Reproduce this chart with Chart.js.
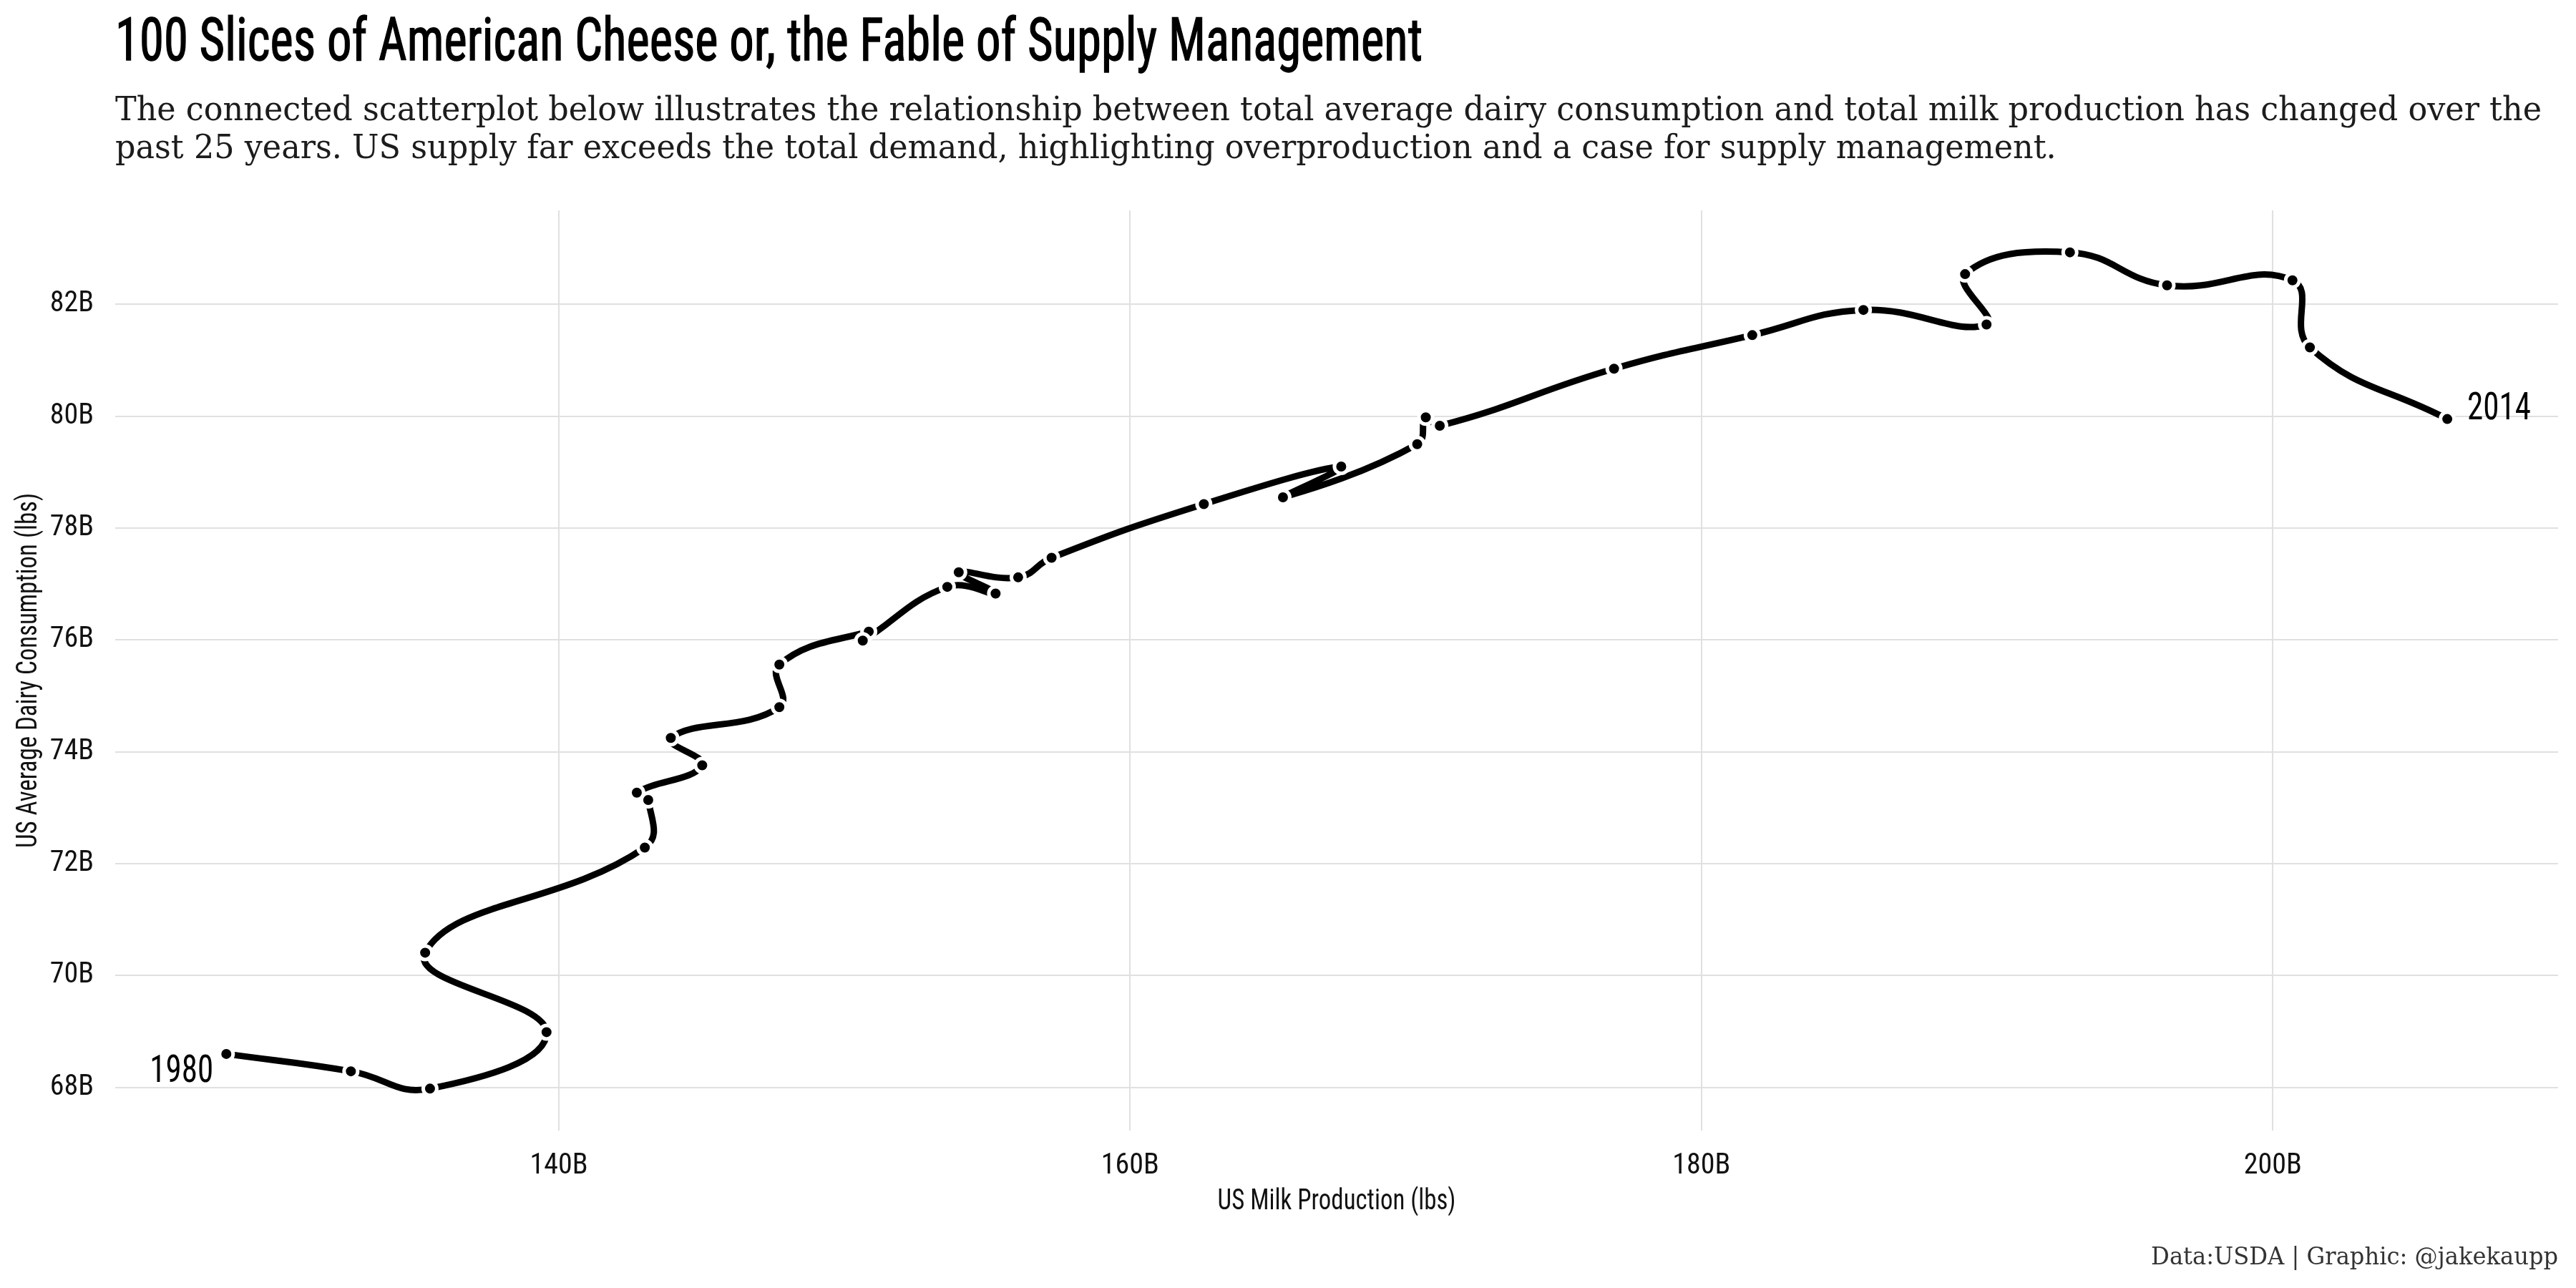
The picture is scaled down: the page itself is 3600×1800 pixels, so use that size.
<!DOCTYPE html>
<html lang="en">
<head>
    <meta charset="UTF-8">
    <title>100 Slices of American Cheese</title>
    <script src="https://cdn.jsdelivr.net/npm/chart.js"></script>
    <style>
        html, body {
            margin: 0;
            padding: 0;
            background: #fff;
        }
        #wrap {
            position: relative;
            width: 3600px;
            height: 1800px;
            overflow: hidden;
        }
        #chart {
            position: absolute;
            left: 0;
            top: 0;
        }
        .txt {
            position: absolute;
            white-space: nowrap;
            line-height: 1;
            transform-origin: left top;
        }
        #title {
            left: 161px;
            top: 14px;
            font-family: "Liberation Sans Narrow", "Roboto Condensed", "DejaVu Sans Condensed", sans-serif;
            font-size: 83px;
            color: #000;
            -webkit-text-stroke: 1.4px #000;
        }
        #subtitle {
            left: 161px;
            top: 126px;
            font-family: "DejaVu Serif", serif;
            font-size: 46px;
            line-height: 53px;
            color: #1c1c1c;
        }
        #caption {
            right: 25px;
            top: 1738px;
            font-family: "DejaVu Serif", serif;
            font-size: 34px;
            color: #333;
            transform-origin: right top;
        }
    </style>
</head>
<body>
<div id="wrap">
    <canvas id="chart" width="3600" height="1800"></canvas>
    <div class="txt" id="title" data-fit="1827">100 Slices of American Cheese or, the Fable of Supply Management</div>
    <div class="txt" id="subtitle" data-fit="3391">The connected scatterplot below illustrates the relationship between total average dairy consumption and total milk production has changed over the<br>past 25 years. US supply far exceeds the total demand, highlighting overproduction and a case for supply management.</div>
    <div class="txt" id="caption" data-fit="569">Data:USDA | Graphic: @jakekaupp</div>
</div>
<script>
    // values in billions of lbs
    const years = [1980, 1981, 1982, 1983, 1984, 1985, 1986, 1987, 1988, 1989,
                   1990, 1991, 1992, 1993, 1994, 1995, 1996, 1997, 1998, 1999,
                   2000, 2001, 2002, 2003, 2004, 2005, 2006, 2007, 2008, 2009,
                   2010, 2011, 2012, 2013, 2014];
    const milkProduction = [128.36, 132.72, 135.49, 139.57, 135.32, 143.01, 143.13, 142.73, 145.02, 143.92,
                            147.72, 147.72, 150.85, 150.64, 153.60, 155.29, 154.00, 156.08, 157.25, 162.58,
                            167.39, 165.35, 170.05, 170.35, 170.84, 176.94, 181.78, 185.67, 189.98, 189.23,
                            192.90, 196.30, 200.69, 201.30, 206.11];
    const dairyConsumption = [68.60, 68.29, 67.98, 68.99, 70.41, 72.29, 73.14, 73.27, 73.76, 74.25,
                              74.80, 75.56, 76.15, 75.99, 76.95, 76.83, 77.21, 77.12, 77.47, 78.43,
                              79.10, 78.55, 79.50, 79.98, 79.83, 80.85, 81.45, 81.90, 81.64, 82.54,
                              82.93, 82.34, 82.43, 81.23, 79.95];
    const xTicks = [140, 160, 180, 200];
    const yTicks = [68, 70, 72, 74, 76, 78, 80, 82];
    const xTitle = 'US Milk Production (lbs)';
    const yTitle = 'US Average Dairy Consumption (lbs)';

    const narrow = '"Liberation Sans Narrow", "Roboto Condensed", "DejaVu Sans Condensed", sans-serif';
    const squeeze = 0.85; // the original face is narrower than what we have

    const points = milkProduction.map((x, i) => ({ x: x, y: dairyConsumption[i] }));

    // squeeze the html texts to the widths seen in the reference
    function fitText() {
        document.querySelectorAll('[data-fit]').forEach(el => {
            const w = el.getBoundingClientRect().width;
            el.style.transform = 'scaleX(' + (+el.dataset.fit / w) + ')';
        });
    }

    function narrowText(ctx, text, x, y, align, angle) {
        ctx.save();
        ctx.translate(x, y);
        if (angle) ctx.rotate(angle);
        ctx.scale(squeeze, 1);
        ctx.textAlign = align;
        ctx.fillText(text, 0, 0);
        ctx.restore();
    }

    // axis titles and the year labels at both ends of the path
    const extraText = {
        id: 'extraText',
        afterDatasetsDraw(chart) {
            const pts = chart.getDatasetMeta(0).data;
            const first = pts[0];
            const last = pts[pts.length - 1];
            const a = chart.chartArea;
            const ctx = chart.ctx;
            ctx.save();
            ctx.fillStyle = '#000';
            ctx.textBaseline = 'alphabetic';
            ctx.font = '53px ' + narrow;
            narrowText(ctx, String(years[0]), first.x - 18, first.y + 39, 'right');
            narrowText(ctx, String(years[years.length - 1]), last.x + 28, last.y, 'left');
            ctx.fillStyle = '#111';
            ctx.font = '41px ' + narrow;
            narrowText(ctx, xTitle, (a.left + a.right) / 2, 1690, 'center');
            narrowText(ctx, yTitle, 51, (a.top + a.bottom) / 2, 'center', -Math.PI / 2);
            ctx.restore();
        }
    };

    const tickFont = { family: narrow, size: 40 };

    document.fonts.ready.then(function () {
        fitText();
        new Chart(document.getElementById('chart'), {
            type: 'scatter',
            data: {
                datasets: [{
                    data: points,
                    showLine: true,
                    borderColor: '#000',
                    borderWidth: 9,
                    tension: 0.45,
                    pointRadius: 9.5,
                    pointHoverRadius: 9.5,
                    pointBorderWidth: 5,
                    pointBackgroundColor: '#000',
                    pointBorderColor: '#fff'
                }]
            },
            plugins: [extraText],
            options: {
                responsive: false,
                animation: false,
                devicePixelRatio: 1,
                layout: { padding: { left: 0, top: 294, right: 25, bottom: 0 } },
                plugins: {
                    legend: { display: false },
                    tooltip: { enabled: false }
                },
                scales: {
                    x: {
                        type: 'linear',
                        min: 124.47,
                        max: 209.99,
                        afterFit(s) { s.height = 220; },
                        afterBuildTicks(s) { s.ticks = xTicks.map(v => ({ value: v })); },
                        grid: { color: '#e0e0e0', lineWidth: 2, drawTicks: false },
                        border: { display: false },
                        ticks: {
                            padding: 26,
                            font: tickFont,
                            color: '#111',
                            maxRotation: 0,
                            callback: v => v + 'B'
                        }
                    },
                    y: {
                        type: 'linear',
                        min: 67.23,
                        max: 83.68,
                        afterFit(s) { s.width = 161; },
                        afterBuildTicks(s) { s.ticks = yTicks.map(v => ({ value: v })); },
                        grid: { color: '#e0e0e0', lineWidth: 2, drawTicks: false },
                        border: { display: false },
                        ticks: {
                            padding: 30,
                            font: tickFont,
                            color: '#111',
                            callback: v => v + 'B'
                        }
                    }
                }
            }
        });
    });
</script>
</body>
</html>
